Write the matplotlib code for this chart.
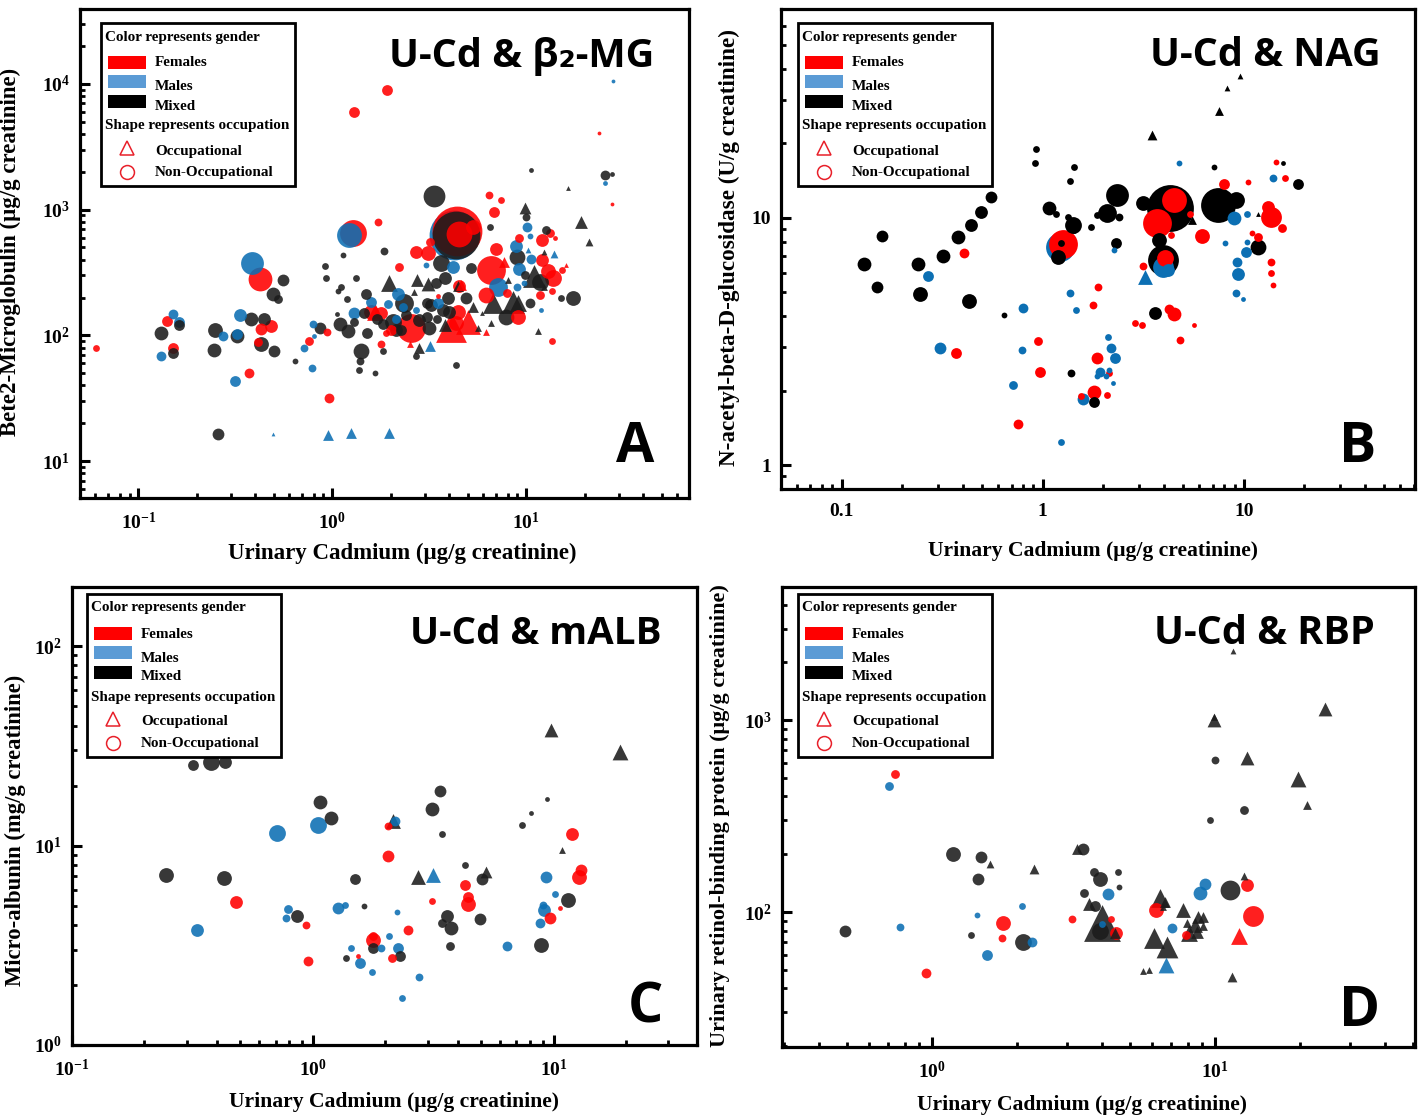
#! /usr/bin/env python3
import matplotlib
matplotlib.use("Agg")
import matplotlib.pyplot as plt
from matplotlib.lines import Line2D
from matplotlib.patches import Rectangle
from matplotlib.ticker import LogLocator, NullFormatter, FuncFormatter

plt.rcParams['font.family'] = ['Liberation Serif', 'DejaVu Serif']
plt.rcParams['font.weight'] = 'bold'
plt.rcParams['mathtext.fontset'] = 'custom'
plt.rcParams['mathtext.rm'] = 'Liberation Serif:bold'
plt.rcParams['mathtext.default'] = 'regular'

W, H = 1424, 1116
RED, BLUE, DARK = '#ff0000', '#0c6fb3', '#1c1c1c'

# each group: x = urinary Cd, y = marker, n = bubble size
# panel A, beta2-MG
a_mix_c_x = [.131, .161, .151, .247, .244, .324, .382, .446, .43, .502, .559, .496, .527, .258, .644, .867, 1.09, 1.21, 1.41, 1.39, 1.38, 1.65, 1.13, .92, .931, 1.33, 1.11, 1.07, 1.19, 1.5, 1.06, 3.36, 4.36, 25.5, 27.7, 1.85, 6.52, 10, 8.99, 12.7, 5.2, 3.82, 3.65, 3.44, 3.96, 4.9, 3.09, 2.35, 2.06, 1.83, 3.16, 3.09, 3.73, 3.48, 1.51, 1.83, 2.71, 4.36, 7.89, 10.4, 15.1, 17.5, 11.7, 9.88, 10.6, 1.69, 2.27, 1.3, 1.46, 2.14, 2.41, 2.81, 3.24, 4.01]
a_mix_c_y = [104, 120, 73, 110, 77, 98, 134, 134, 85, 75, 274, 212, 193, 16.3, 62, 114, 122, 108, 75, 62, 53, 50, 433, 354, 284, 284, 241, 224, 193, 212, 147, 1275, 625, 1875, 1910, 466, 723, 869, 417, 684, 341, 284, 374, 259, 197, 200, 180, 180, 127, 122, 114, 139, 158, 134, 104, 75, 69, 58, 139, 180, 197, 200, 264, 300, 2055, 134, 110, 127, 150, 110, 144, 132, 173, 152]
a_mix_c_n = [6.5, 5, 5, 7, 6.5, 6.5, 6.5, 6, 7, 5.5, 5.5, 6.5, 4, 5.5, 2.5, 5.5, 6.5, 6.5, 7.5, 3.5, 3, 2.5, 2.5, 3, 3, 3, 3, 2.5, 3, 5, 2, 10.5, 23.5, 4.5, 2, 3.5, 3, 3.5, 7.5, 4, 5, 6, 8, 5, 6, 5.5, 5, 9, 8, 5, 6.5, 5, 6, 4, 5, 3, 3, 3, 7.5, 4.5, 3, 7, 8, 4, 2, 5, 5, 4, 5, 6, 5, 6, 6, 6]
a_fem_c_x = [.0608, .141, .151, .43, .485, .416, .425, .373, .76, .942, .966, 1.28, 1.71, 6.45, 7.43, 6.84, 2.21, 2.71, 3.13, 3.2, 4.52, 5.33, 6.6, 7, 6.22, 9.09, 9.2, 12.1, 13.3, 14.1, 12.1, 13, 13.8, 15.3, 13.5, 11.7, 13.6, 1.79, 2.55, 4.46, 4.36, 1.79, 1.88, 27.7, 7.98, 4.52, 3.52, 1.3, 1.92, 23.8, 4.41, 1.59, 2.0]
a_fem_c_y = [79, 129, 79, 112, 118, 88, 279, 50, 90, 106, 32, 647, 792, 1300, 1190, 953, 348, 457, 449, 550, 636, 723, 329, 483, 208, 139, 592, 570, 647, 592, 395, 323, 284, 329, 224, 208, 90, 150, 114, 152, 125, 85, 104, 1100, 216, 245, 204, 5940, 8900, 4050, 672, 152, 110]
a_fem_c_n = [3, 5, 5, 5.5, 6, 4, 11.5, 4.5, 4, 3.5, 4.5, 13, 3.5, 3.5, 3, 5, 4, 6, 7, 4, 12.5, 7, 14, 6, 7.5, 7, 4, 6, 4, 2, 6, 7, 8, 3, 3, 4, 3, 6, 14, 7, 7, 3.5, 3, 1.5, 4, 6, 2, 5, 5, 1.5, 24.5, 7, 5]
a_mal_c_x = [.151, .161, .131, .274, .324, .336, .387, .313, .718, .807, .798, .789, 1.22, 1.3, 1.59, 10.1, 8.88, 10.4, 9.2, 10.6, 7.18, 8.99, 9.77, 4.2, 3.05, 2.19, 1.94, 2.32, 2.71, 3.52, 11.9, 25.5, 28.1, 4.25, 2.14]
a_mal_c_y = [147, 127, 69, 98, 102, 144, 374, 43, 79, 98, 122, 55, 625, 150, 183, 723, 511, 614, 335, 403, 241, 241, 259, 348, 361, 212, 177, 167, 158, 180, 158, 1620, 10500, 625, 136]
a_mal_c_n = [4.5, 5, 4.5, 4.5, 5, 6, 11, 5, 3.5, 2, 3.5, 3.5, 12, 5.5, 5, 4.5, 6, 2.5, 6, 4.5, 9, 3.5, 2.5, 6, 2.5, 6, 4, 4, 3, 5, 2, 2, 1.5, 24.5, 4]
a_mix_t_x = [1.97, 2.74, 3.13, 2.65, 4.46, 9.88, 19.2, 21.1, 16.5, 12.4, 11, 3.82, 5.33, 5.93, 6.6, 5.66, 11.5, 6.76, 8.57, 9.09, 2.81, 8.08, 12.4]
a_mix_t_y = [259, 274, 255, 220, 245, 1025, 792, 550, 1475, 457, 294, 120, 167, 150, 125, 114, 108, 180, 183, 180, 80, 274, 241]
a_mix_t_n = [8, 6, 6.5, 3, 5, 5.5, 6, 3.5, 2, 2.5, 11, 6, 5, 2, 3, 3, 3, 10, 11, 8, 5, 3, 3]
a_fem_t_x = [4.1, 5.02, 1.65, 6.22, 2.52, 16.1, 7.7, 4.62]
a_fem_t_y = [116, 127, 152, 106, 86, 361, 381, 250]
a_fem_t_n = [15, 12, 8, 3, 3, 2, 5, 5]
a_mal_t_x = [.496, .953, 1.25, 1.97, 10.2, 13.9, 3.2]
a_mal_t_y = [16.3, 16, 16.6, 16.6, 474, 441, 82]
a_mal_t_n = [1.5, 5, 5, 5, 2.5, 3.5, 5]

# panel B, NAG
b_mix_c_x = [.129, .159, .15, .241, .246, .321, .381, .438, .491, .551, .432, .639, .923, .912, 1.43, 1.36, 1.08, 1.17, 1.41, 1.43, 1.33, 1.73, 2.34, 2.08, 1.86, 2.39, 2.31, 3.15, 4.3, 3.79, 3.97, 7.46, 9.18, 11.8, 7.13, 15.7, 18.7, 3.62, 1.38, 1.8, 1.19, 1.24]
b_mix_c_y = [6.52, 8.45, 5.26, 6.52, 4.92, 7.0, 8.37, 9.37, 10.6, 12.1, 4.61, 4.05, 19, 16.7, 16.1, 14.1, 11, 10.4, 9.37, 8.94, 10.1, 9.2, 12.4, 10.5, 10.3, 10.1, 7.92, 11.5, 11, 8.14, 6.76, 11.3, 11.8, 7.64, 16.1, 16.7, 13.7, 4.12, 2.36, 1.8, 6.95, 7.92]
b_mix_c_n = [6.5, 5.5, 5.5, 6.5, 7, 6.5, 6.5, 6, 6, 5.5, 7, 2.5, 3, 3, 3, 3, 6.5, 3, 8, 3, 3, 3, 11, 9, 3, 3.5, 5, 7, 23, 7, 15, 17, 8, 7.5, 2.5, 2, 5, 6, 3.5, 5, 7, 3]
b_fem_c_x = [.408, .372, .944, .966, .75, 1.26, 1.86, 1.77, 1.88, 2.13, 2.88, 3.12, 3.15, 4.25, 4.5, 5.66, 4.82, 4.5, 3.7, 6.21, 8.0, 10.5, 14.4, 16.1, 13.7, 13.2, 15.4, 11, 11.8, 13.7, 13.7, 13.9, 4.35, 5.41, 4.06, 1.8, 1.55, 2.08]
b_fem_c_y = [7.22, 2.84, 3.18, 2.38, 1.47, 7.85, 2.71, 4.45, 5.26, 2.36, 3.76, 3.7, 6.4, 4.28, 4.08, 3.69, 3.2, 11.8, 9.55, 8.45, 13.7, 14, 16.9, 14.5, 10.1, 11.1, 9.12, 8.69, 8.37, 6.64, 5.99, 5.36, 8.53, 10.4, 6.9, 1.98, 1.9, 1.92]
b_fem_c_n = [4.5, 5, 4, 5, 4.5, 14, 5.5, 3.5, 3.5, 3, 3, 3, 3.5, 4.5, 6.5, 2, 3.5, 12, 14, 7, 5, 2.5, 2.5, 3, 10, 6, 4, 2.5, 4, 3.5, 3, 2.5, 3, 3, 8, 6.5, 3, 3]
b_mal_c_x = [.27, .795, .31, .785, .709, 1.36, 1.46, 1.58, 1.92, 2.11, 2.18, 2.29, 2.06, 1.86, 2.13, 2.23, 1.24, 1.22, 2.26, 4.2, 3.97, 4.77, 14, 8.97, 10.4, 10.4, 8.09, 10.3, 9.29, 9.39, 9.18, 9.94]
b_mal_c_y = [5.82, 4.32, 2.98, 2.92, 2.11, 4.97, 4.25, 1.85, 2.38, 3.31, 2.98, 2.71, 2.29, 2.29, 2.42, 2.15, 1.24, 7.64, 7.42, 6.15, 6.34, 16.6, 14.5, 10, 10.4, 8.0, 7.92, 7.28, 6.64, 5.95, 4.97, 4.7]
b_mal_c_n = [5, 4.5, 5.5, 3.5, 4, 3.5, 3, 5.5, 4.5, 3, 4.5, 5, 2.5, 2.5, 2.5, 2, 3, 14, 2.5, 6, 10, 2.5, 3.5, 6.5, 3, 2.5, 2.5, 5, 4.5, 6, 3.5, 2]
b_mix_t_x = [3.5, 7.55, 8.27, 9.6, 11.8, 5.53]
b_mix_t_y = [21.7, 27.1, 33.6, 37.6, 10.4, 9.8]
b_mix_t_n = [4.5, 4, 2.5, 2.5, 2, 4]
b_mal_t_x = [3.23]
b_mal_t_y = [5.77]
b_mal_t_n = [7]

# panel C, mALB
c_mix_c_x = [.317, .377, .431, 1.07, 1.19, 3.37, 3.12, .245, .427, 1.49, .857, 1.63, 3.44, 4.29, 3.61, 3.44, 3.75, 3.71, 1.78, 2.3, 1.37, 5.05, 4.94, 9.4, 8.06, 7.4, 11.5, 8.87]
c_mix_c_y = [25.5, 26.1, 26.1, 16.6, 13.8, 18.7, 15.3, 7.16, 6.84, 6.76, 4.46, 5, 11.4, 8.03, 4.46, 4.11, 3.84, 3.15, 3.05, 2.81, 2.72, 6.76, 4.26, 17.2, 14.6, 12.7, 5.36, 3.19]
c_mix_c_n = [5, 8, 6, 6.5, 6.5, 5.5, 6.5, 7, 7, 5, 6, 2.5, 3, 3, 6, 4, 6.5, 4, 5, 5, 3, 5.5, 5.5, 2, 2, 3, 7, 7]
c_mal_c_x = [.709, 1.05, .33, .787, .773, 1.27, 1.36, 2.24, 2.07, 1.44, 1.92, 2.26, 1.57, 1.76, 2.76, 2.34, 2.19, 9.31, 10.1, 9.04, 9.13, 8.79, 6.41]
c_mal_c_y = [11.6, 12.7, 3.79, 4.83, 4.31, 4.89, 5.06, 4.67, 3.54, 3.08, 3.08, 3.08, 2.59, 2.31, 2.2, 1.73, 13.3, 6.92, 5.74, 5.06, 4.78, 4.11, 3.15]
c_mal_c_n = [8, 8, 6, 4, 3.5, 5.5, 3, 2.5, 3, 3, 3.5, 5, 5, 3, 3.5, 3, 4.5, 5.5, 3, 3.5, 6, 4.5, 4.5]
c_fem_c_x = [.479, .935, .953, 2.05, 2.05, 1.78, 1.78, 1.54, 2.13, 2.48, 3.12, 4.29, 4.41, 4.41, 11.9, 13, 12.7, 9.67, 10.6]
c_fem_c_y = [5.24, 4.02, 2.65, 8.91, 12.6, 3.38, 3.54, 2.78, 2.72, 3.79, 5.3, 6.38, 5.55, 5.12, 11.4, 7.58, 6.92, 4.31, 4.89]
c_fem_c_n = [6, 3.5, 4.5, 5.5, 3.5, 7, 4, 2, 4, 4.5, 3, 5, 5, 7, 6, 5.5, 7, 5.5, 2]
c_mix_t_x = [2.15, 2.73, 5.24, 9.77, 18.9, 10.8]
c_mix_t_y = [13.3, 6.92, 7.41, 38.1, 29.6, 9.55]
c_mix_t_n = [7, 7, 5.5, 6.5, 7.5, 3]
c_mal_t_x = [3.15]
c_mal_t_y = [7.08]
c_mal_t_n = [7]

# panel D, RBP
d_mix_c_x = [1.19, 1.49, 1.45, .493, 1.37, 2.1, 3.42, 3.73, 3.93, 4.54, 4.58, 3.44, 3.77, 3.93, 10, 12.7, 9.6, 11.3]
d_mix_c_y = [200, 193, 149, 80, 76, 70, 213, 162, 149, 162, 135, 126, 107, 80, 619, 340, 301, 130]
d_mix_c_n = [7, 5.5, 5.5, 5.5, 3, 8, 5.5, 4, 7, 3, 2.5, 4, 5, 8, 3.5, 4, 3, 9.5]
d_mal_c_x = [.705, .771, 1.44, 2.08, 2.26, 1.56, 4.19, 3.99, 7.05, 8.85, 9.22]
d_mal_c_y = [453, 84, 96, 107, 70, 60, 124, 87, 83, 126, 140]
d_mal_c_n = [4, 3.5, 2.5, 3, 4.5, 5, 5.5, 3, 4.5, 6.5, 5.5]
d_fem_c_x = [.74, 1.78, 1.77, .953, 3.12, 4.29, 4.47, 6.19, 13, 13.6, 7.9]
d_fem_c_y = [524, 88, 73, 48, 92, 92, 78, 102, 138, 95, 76]
d_fem_c_n = [4, 7, 3.5, 4.5, 3.5, 3, 6, 7, 6, 10, 4]
d_mix_t_x = [11.6, 24.5, 9.91, 9.91, 13, 19.6, 21.1, 3.25, 3.59, 3.99, 4.43, 6.39, 6.66, 6.55, 7.71, 6.09, 6.77, 8.71, 9.07, 9.07, 7.96, 8.49, 8.63, 8.09, 12.7, 5.57, 5.85, 11.5, 1.6, 2.29]
d_mix_t_y = [2286, 1140, 1000, 1037, 634, 493, 361, 213, 110, 88, 78, 118, 113, 106, 102, 73, 66, 94, 94, 85, 88, 86, 79, 78, 154, 49, 50, 46, 178, 168]
d_mix_t_n = [2.5, 6.5, 6.5, 3, 6.5, 7.5, 4, 5, 6, 18, 5, 9, 5, 3, 7, 10, 10.5, 6, 5, 4, 4, 7, 6, 8, 3.5, 3, 3, 4.5, 3.5, 4.5]
d_fem_t_x = [12.2]
d_fem_t_y = [75]
d_fem_t_n = [8]
d_mal_t_x = [6.71]
d_mal_t_y = [53]
d_mal_t_n = [7.5]


def fx(px):
    return px / W


def fy(py):
    return 1 - py / H


def scatter_panel(ax, groups, alpha):
    pts = []
    for x, y, n, col, marker in groups:
        for a, b, c in zip(x, y, n):
            pts.append((a, b, c, col, marker))
    for a, b, c, col, marker in pts:
        # big bubbles go underneath
        ax.scatter(a, b, s=(2 * (c + 0.4) * 0.72) ** 2, c=col, marker=marker,
                   linewidths=0, alpha=alpha, zorder=100 - c)


def setup_axes(box, xlim, ylim):
    l, t, r, b = box
    ax = fig.add_axes([fx(l), fy(b), (r - l) / W, (b - t) / H])
    ax.set_xscale('log')
    ax.set_yscale('log')
    ax.set_xlim(xlim)
    ax.set_ylim(ylim)
    for s in ax.spines.values():
        s.set_linewidth(2.3)
    for axis in (ax.xaxis, ax.yaxis):
        axis.set_major_locator(LogLocator(base=10, numticks=12))
        axis.set_minor_locator(LogLocator(base=10, subs=range(2, 10), numticks=12))
        axis.set_minor_formatter(NullFormatter())
    ax.tick_params(which='major', direction='in', length=7, width=2.2, labelsize=14, pad=7)
    ax.tick_params(which='minor', direction='in', length=3.5, width=2.0)
    ax.tick_params(axis='x', which='major', pad=10)
    return ax


def draw_legend(left, top):
    fs = 10.9
    fig.add_artist(Rectangle((fx(left), fy(top + 163)), 194 / W, 163 / H, transform=fig.transFigure,
                             fc='white', ec='black', lw=2.0, zorder=200))
    z = 201
    fig.text(fx(left + 4), fy(top + 14), 'Color represents gender', fontsize=fs, va='center', zorder=z)
    rows = [('Females', '#ff0000', 40, 33), ('Males', '#5b9bd5', 64, 52), ('Mixed', '#000000', 83, 72)]
    for name, col, ty, ry in rows:
        fig.add_artist(Rectangle((fx(left + 7), fy(top + ry + 13)), 38 / W, 13 / H, transform=fig.transFigure,
                                 fc=col, ec='none', zorder=z))
        fig.text(fx(left + 54), fy(top + ty), name, fontsize=fs, va='center', zorder=z)
    fig.text(fx(left + 4), fy(top + 103), 'Shape represents occupation', fontsize=fs, va='center', zorder=z)
    fig.add_artist(Line2D([fx(left + 26)], [fy(top + 125)], marker='^', ms=10, mfc='none', mec='#e8202a',
                          mew=1.1, transform=fig.transFigure, zorder=z))
    fig.text(fx(left + 54), fy(top + 128), 'Occupational', fontsize=fs, va='center', zorder=z)
    fig.add_artist(Line2D([fx(left + 26)], [fy(top + 149)], marker='o', ms=10, mfc='none', mec='#e8202a',
                          mew=1.1, transform=fig.transFigure, zorder=z))
    fig.text(fx(left + 54), fy(top + 150), 'Non-Occupational', fontsize=fs, va='center', zorder=z)


def panel_text(title, tx, ty, tfs, letter, lx, ly, xlab, xlab_pos, xfs, ylab, ylab_pos, yfs):
    fig.text(fx(tx), fy(ty + 4), title, fontsize=tfs, family=['Open Sans', 'DejaVu Sans'], weight='bold',
             ha='center', va='center', zorder=210)
    fig.text(fx(lx), fy(ly + 5), letter, fontsize=40, family=['Open Sans', 'DejaVu Sans'], weight='bold',
             ha='center', va='center', zorder=210)
    fig.text(fx(xlab_pos[0]), fy(xlab_pos[1] + 2), xlab, fontsize=xfs, ha='center', va='center')
    fig.text(fx(ylab_pos[0]), fy(ylab_pos[1]), ylab, fontsize=yfs, rotation=90, ha='center', va='center')


fig = plt.figure(figsize=(W / 100, H / 100), dpi=100)

# A
ax_a = setup_axes((80, 9, 689, 498), (0.05, 69), (5.08, 39500))
scatter_panel(ax_a, [
    (a_mal_c_x, a_mal_c_y, a_mal_c_n, BLUE, 'o'), (a_fem_c_x, a_fem_c_y, a_fem_c_n, RED, 'o'),
    (a_mix_c_x, a_mix_c_y, a_mix_c_n, DARK, 'o'), (a_mal_t_x, a_mal_t_y, a_mal_t_n, BLUE, '^'),
    (a_mix_t_x, a_mix_t_y, a_mix_t_n, DARK, '^'), (a_fem_t_x, a_fem_t_y, a_fem_t_n, RED, '^')], 0.88)
draw_legend(101, 23)
panel_text('U-Cd & β₂-MG', 522, 52, 28.5, 'A', 635, 443, 'Urinary Cadmium (μg/g creatinine)', (402, 551), 16.5,
           'Bete2-Microglobulin (μg/g creatinine)', (10, 252), 16.5)

# B
ax_b = setup_axes((781, 9, 1415, 489), (0.05, 71), (0.8, 70))
plain = FuncFormatter(lambda v, _: f'{v:g}')
ax_b.xaxis.set_major_formatter(plain)
ax_b.yaxis.set_major_formatter(plain)
scatter_panel(ax_b, [
    (b_mal_c_x, b_mal_c_y, b_mal_c_n, BLUE, 'o'), (b_mix_c_x, b_mix_c_y, b_mix_c_n, '#000000', 'o'),
    (b_fem_c_x, b_fem_c_y, b_fem_c_n, RED, 'o'), (b_mal_t_x, b_mal_t_y, b_mal_t_n, BLUE, '^'),
    (b_mix_t_x, b_mix_t_y, b_mix_t_n, '#000000', '^')], 1.0)
draw_legend(798, 23)
panel_text('U-Cd & NAG', 1265, 51, 28.5, 'B', 1358, 443, 'Urinary Cadmium (μg/g creatinine)', (1093, 549), 15.6,
           'N-acetyl-beta-D-glucosidase (U/g creatinine)', (729, 248), 16.7)

# C
ax_c = setup_axes((72, 587, 697, 1045), (0.1, 39.4), (1, 198))
scatter_panel(ax_c, [
    (c_mal_c_x, c_mal_c_y, c_mal_c_n, BLUE, 'o'), (c_mix_c_x, c_mix_c_y, c_mix_c_n, DARK, 'o'),
    (c_fem_c_x, c_fem_c_y, c_fem_c_n, RED, 'o'), (c_mal_t_x, c_mal_t_y, c_mal_t_n, BLUE, '^'),
    (c_mix_t_x, c_mix_t_y, c_mix_t_n, DARK, '^')], 0.88)
draw_legend(87, 594)
panel_text('U-Cd & mALB', 536, 630, 27.7, 'C', 645, 1003, 'Urinary Cadmium (μg/g creatinine)', (394, 1100), 15.6,
           'Micro-albunin (mg/g creatinine)', (15, 830), 16.3)

# D
ax_d = setup_axes((782, 587, 1415, 1047), (0.295, 50.9), (19.8, 4936))
scatter_panel(ax_d, [
    (d_mal_c_x, d_mal_c_y, d_mal_c_n, BLUE, 'o'), (d_mix_c_x, d_mix_c_y, d_mix_c_n, DARK, 'o'),
    (d_fem_c_x, d_fem_c_y, d_fem_c_n, RED, 'o'), (d_mal_t_x, d_mal_t_y, d_mal_t_n, BLUE, '^'),
    (d_mix_t_x, d_mix_t_y, d_mix_t_n, DARK, '^'), (d_fem_t_x, d_fem_t_y, d_fem_t_n, RED, '^')], 0.88)
draw_legend(798, 594)
panel_text('U-Cd & RBP', 1264, 630, 28.5, 'D', 1360, 1006, 'Urinary Cadmium (μg/g creatinine)', (1082, 1103), 15.6,
           'Urinary retinol-binding protein (μg/g creatinine)', (720, 816), 16)

plt.savefig('out.png', dpi=100)
